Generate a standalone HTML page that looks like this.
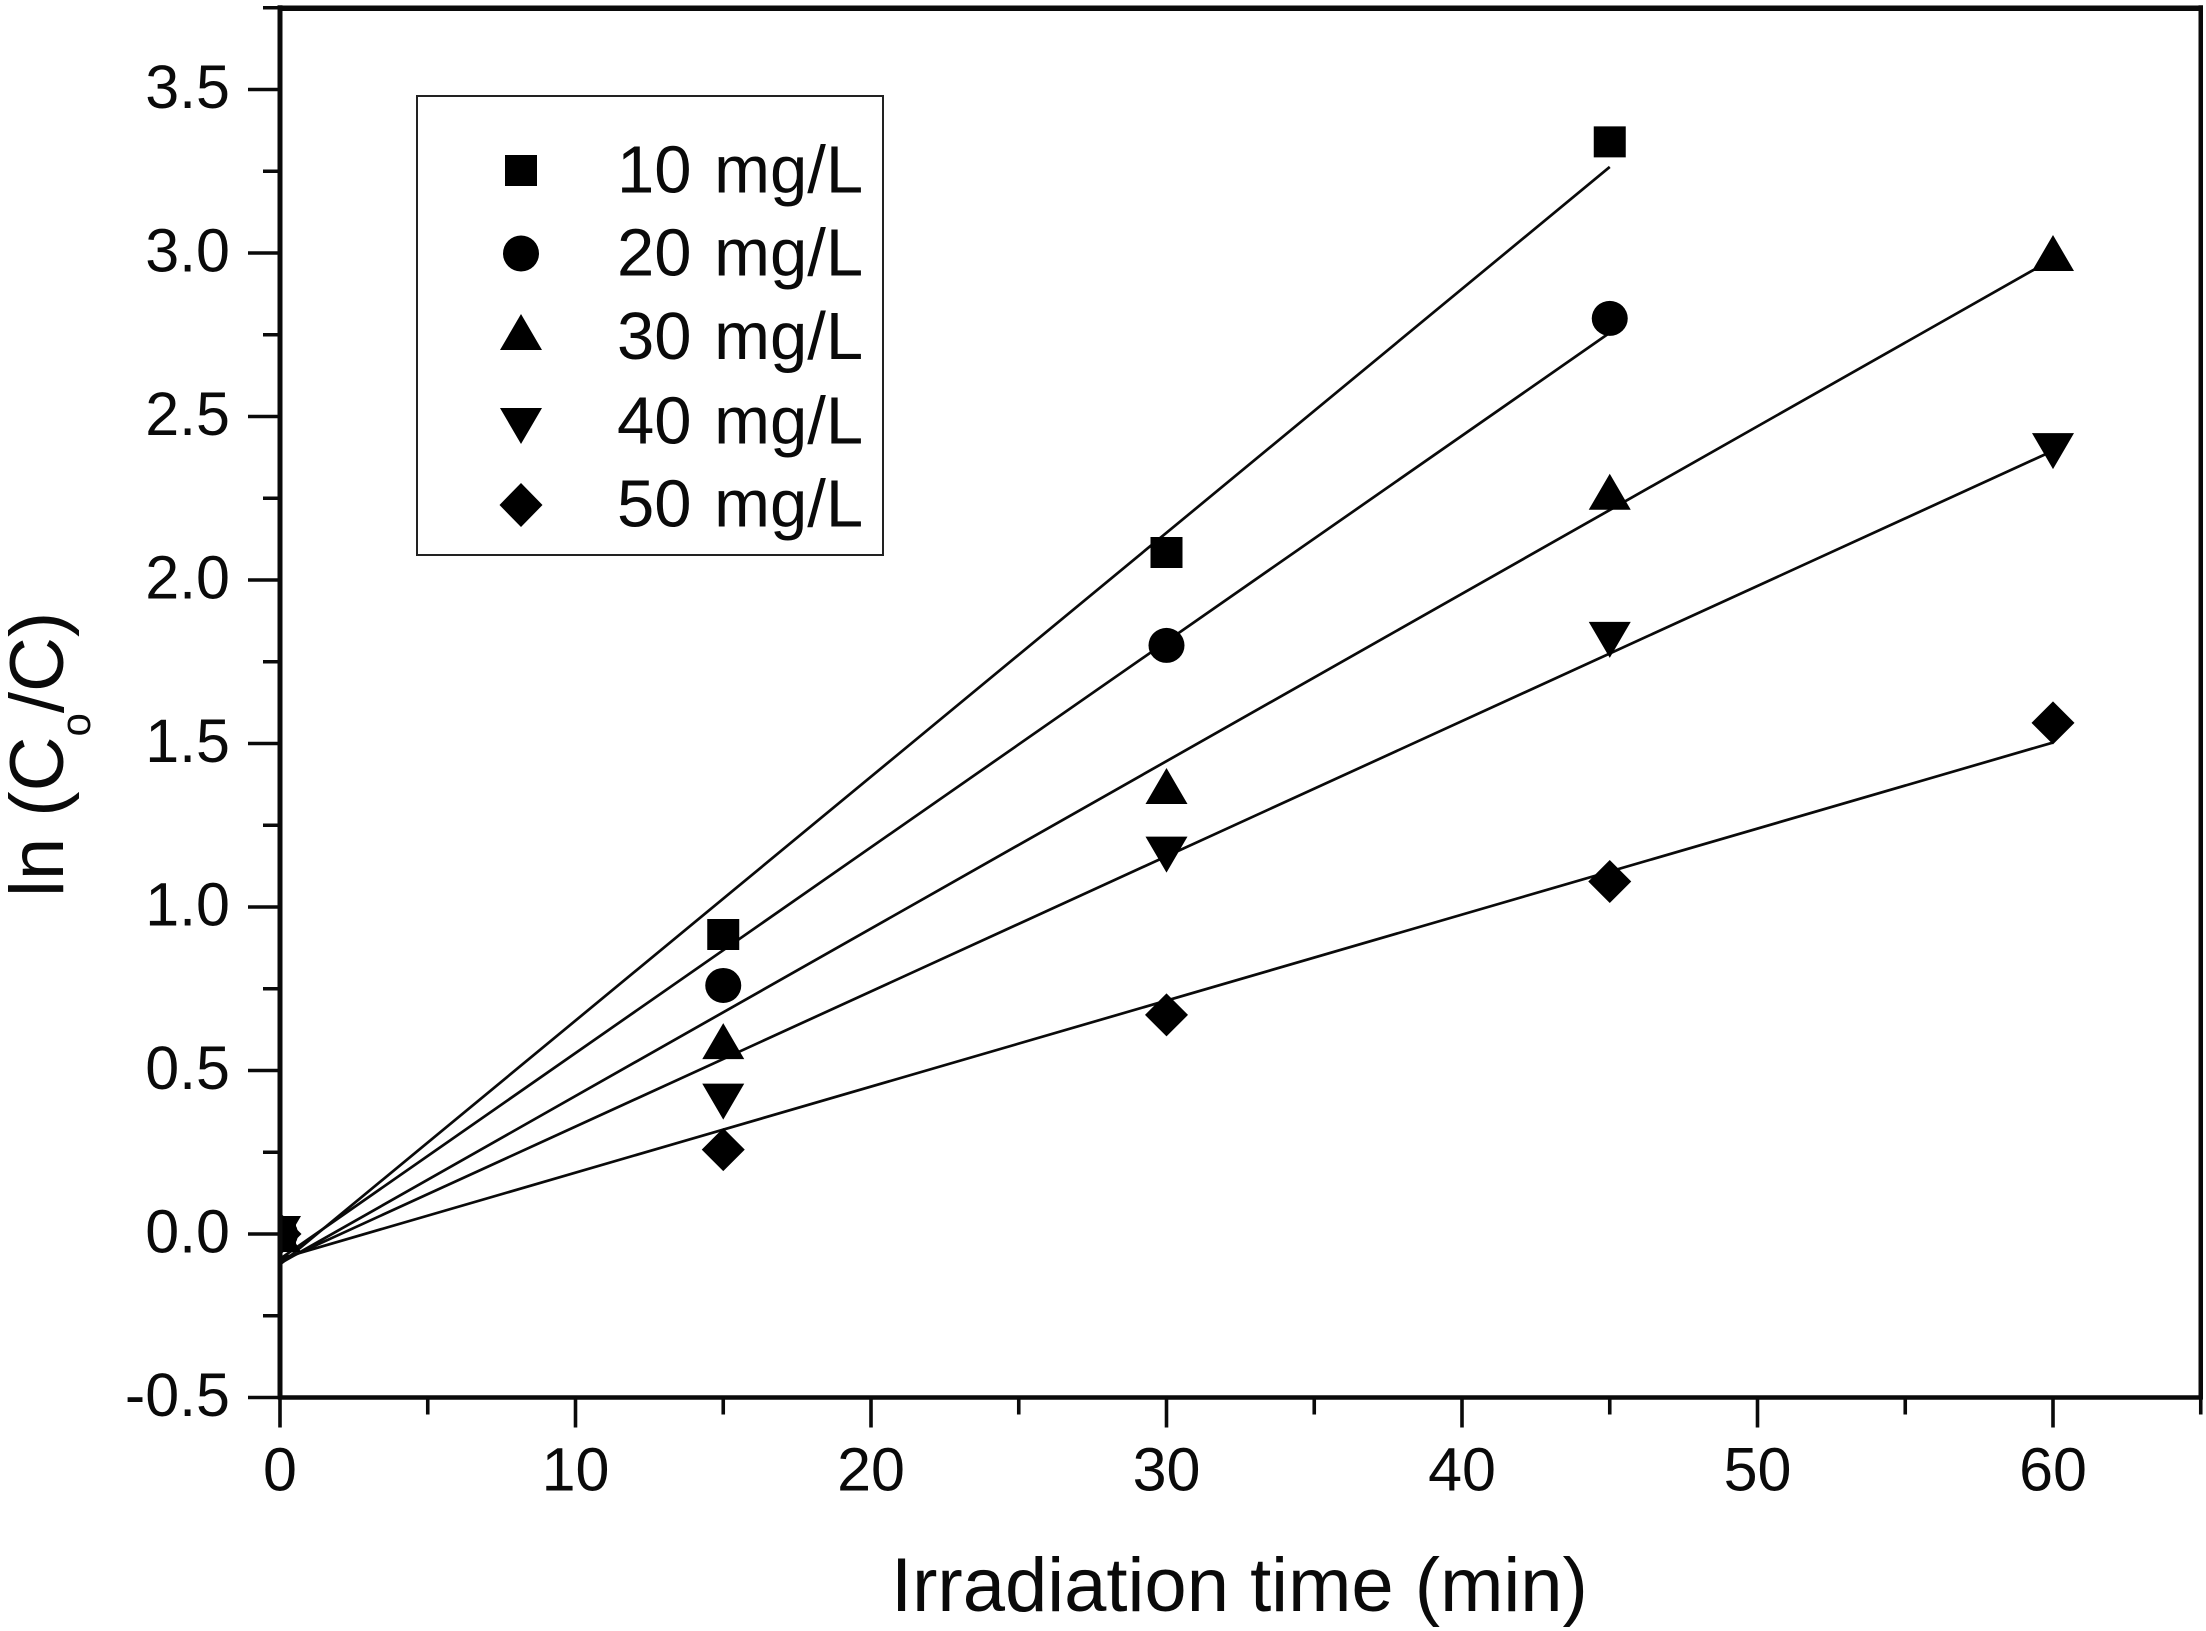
<!DOCTYPE html>
<html lang="en">
<head>
<meta charset="utf-8">
<title>ln (Co/C) versus irradiation time</title>
<style>
html,body{margin:0;padding:0;background:#fff;width:2206px;height:1631px;overflow:hidden}
svg{display:block;position:absolute;left:0;top:0}
text{font-family:"Liberation Sans",Arial,sans-serif;fill:#0a0a0a}
</style>
</head>
<body>
<svg id="chart" xmlns="http://www.w3.org/2000/svg" width="2206" height="1631" viewBox="0 0 2206 1631">
  <defs>
    <clipPath id="plot-clip"><rect x="280" y="8" width="1921" height="1390"></rect></clipPath>
  </defs>
  <rect x="0" y="0" width="2206" height="1631" fill="#ffffff"></rect>
  <g id="lines" clip-path="url(#plot-clip)"></g>
  <g id="points" clip-path="url(#plot-clip)"></g>
  <g id="axes"></g>

  <g>
    <rect x="417" y="96" width="466" height="459" fill="none" stroke="#222" stroke-width="2"></rect>
    <g>
      <path transform="translate(521,170.5)" d="M-16,-15.5H16V15.5H-16Z" fill="#000"></path>
      <text x="617" y="192.5" font-size="67" word-spacing="4">10 mg/L</text>
    </g>
    <g>
      <ellipse cx="521" cy="253.5" rx="18" ry="18" fill="#000"></ellipse>
      <text x="617" y="275.5" font-size="67" word-spacing="4">20 mg/L</text>
    </g>
    <g>
      <path transform="translate(521,332)" d="M0,-18L21,18H-21Z" fill="#000"></path>
      <text x="617" y="359" font-size="67" word-spacing="4">30 mg/L</text>
    </g>
    <g>
      <path transform="translate(521,426)" d="M0,18L21,-18H-21Z" fill="#000"></path>
      <text x="617" y="443.5" font-size="67" word-spacing="4">40 mg/L</text>
    </g>
    <g>
      <path transform="translate(521,505)" d="M0,-22L21.5,0L0,22L-21.5,0Z" fill="#000"></path>
      <text x="617" y="526.5" font-size="67" word-spacing="4">50 mg/L</text>
    </g>
  </g>

  <text x="891" y="1611" font-size="76">Irradiation time (min)</text>
  <text transform="translate(63,897) rotate(-90)" font-size="76">ln (C<tspan font-size="42" dy="27">o</tspan><tspan dy="-27">/C)</tspan></text>
</svg>

<script>
const times = [0, 15, 30, 45, 60];
const series10 = [0, 0.916, 2.084, 3.34];
const series20 = [0, 0.76, 1.80, 2.80];
const series30 = [0, 0.59, 1.37, 2.27, 3.00];
const series40 = [0, 0.405, 1.16, 1.817, 2.394];
const series50 = [0, 0.258, 0.67, 1.078, 1.563];
const seriesNames = ['10-mg-l', '20-mg-l', '30-mg-l', '40-mg-l', '50-mg-l'];
const seriesShapes = ['square', 'circle', 'triangle-up', 'triangle-down', 'diamond'];
const xMajorTicks = [0, 10, 20, 30, 40, 50, 60];
const xMinorTicks = [5, 15, 25, 35, 45, 55, 65];
const xTickLabels = ['0', '10', '20', '30', '40', '50', '60'];
const yMajorTicks = [-0.5, 0, 0.5, 1, 1.5, 2, 2.5, 3, 3.5];
const yMinorTicks = [-0.25, 0.25, 0.75, 1.25, 1.75, 2.25, 2.75, 3.25, 3.75];
const yTickLabels = ['-0.5', '0.0', '0.5', '1.0', '1.5', '2.0', '2.5', '3.0', '3.5'];
const xDomain = [0, 65];
const yDomain = [-0.5, 3.75];

const SVGNS = 'http://www.w3.org/2000/svg';
const allSeries = [series10, series20, series30, series40, series50];

function xScale(t) { return 280 + (t - xDomain[0]) * 29.55; }
function yScale(v) { return 1234 - v * 327; }

function make(tag, parent, attrs) {
  const el = document.createElementNS(SVGNS, tag);
  Object.keys(attrs).forEach(function (k) { el.setAttribute(k, attrs[k]); });
  parent.appendChild(el);
  return el;
}

function fit(xs, ys) {
  const n = ys.length;
  let sx = 0, sy = 0, sxx = 0, sxy = 0;
  for (let i = 0; i < n; i++) {
    sx += xs[i]; sy += ys[i]; sxx += xs[i] * xs[i]; sxy += xs[i] * ys[i];
  }
  const slope = (n * sxy - sx * sy) / (n * sxx - sx * sx);
  return { slope: slope, intercept: (sy - slope * sx) / n };
}

function drawMarker(parent, shape, cx, cy) {
  let el;
  if (shape === 'circle') {
    el = make('ellipse', parent, { cx: cx, cy: cy, rx: 18, ry: 17.5 });
  } else {
    let d = '';
    if (shape === 'square') d = 'M-16,-15.5H16V15.5H-16Z';
    if (shape === 'triangle-up') d = 'M0,-18L21,18H-21Z';
    if (shape === 'triangle-down') d = 'M0,18L21,-18H-21Z';
    if (shape === 'diamond') d = 'M0,-21.5L21.5,0L0,21.5L-21.5,0Z';
    el = make('path', parent, { d: d, transform: 'translate(' + cx + ',' + cy + ')' });
  }
  el.setAttribute('fill', '#000');
  return el;
}

const linesGroup = document.getElementById('lines');
const pointsGroup = document.getElementById('points');
const axesGroup = document.getElementById('axes');

allSeries.forEach(function (values, s) {
  const xs = times.slice(0, values.length);
  const f = fit(xs, values);
  const lastX = xs[xs.length - 1];
  const line = make('line', linesGroup, {
    x1: xScale(xs[0]), y1: yScale(f.intercept + f.slope * xs[0]),
    x2: xScale(lastX), y2: yScale(f.intercept + f.slope * lastX),
    stroke: '#0a0a0a', 'stroke-width': 2.7
  });
  
  
  values.forEach(function (v, i) {
    const m = drawMarker(pointsGroup, seriesShapes[s], xScale(xs[i]), yScale(v));
    
    
  });
});

function axisLine(x1, y1, x2, y2, w) {
  return make('line', axesGroup, { x1: x1, y1: y1, x2: x2, y2: y2, stroke: '#0a0a0a', 'stroke-width': w });
}

const left = xScale(xDomain[0]);
const right = xScale(xDomain[1]);
const bottom = yScale(yDomain[0]);
const top_ = yScale(yDomain[1]);

yMajorTicks.forEach(function (v, i) {
  const tick = axisLine(248, yScale(v), left, yScale(v), 3.6);
  
  
  const label = make('text', axesGroup, { x: 230, y: yScale(v) + 18.5, 'font-size': 61, 'text-anchor': 'end' });
  label.textContent = yTickLabels[i];
  
  
});
yMinorTicks.forEach(function (v) {
  const tick = axisLine(263, yScale(v), left, yScale(v), 3.6);
  
  
});
xMajorTicks.forEach(function (t, i) {
  const tick = axisLine(xScale(t), bottom, xScale(t), bottom + 30, 3.6);
  
  
  const label = make('text', axesGroup, { x: xScale(t), y: 1490.5, 'font-size': 61, 'text-anchor': 'middle' });
  label.textContent = xTickLabels[i];
  
  
});
xMinorTicks.forEach(function (t) {
  const tick = axisLine(xScale(t), bottom, xScale(t), bottom + 17, 3.6);
  
  
});

const spineLeft = axisLine(left, top_ - 2.5, left, bottom + 2, 5);


const spineRight = axisLine(right, top_ - 2.5, right, bottom + 2, 4.5);


const spineTop = axisLine(left - 2, top_ + 0.5, right + 2, top_ + 0.5, 5.5);


const spineBottom = axisLine(left - 2, bottom, right + 2, bottom, 4.5);


</script>
</body>
</html>
